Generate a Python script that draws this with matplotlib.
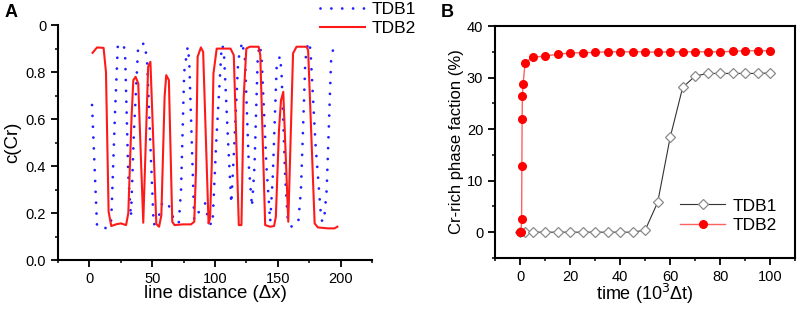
import matplotlib
matplotlib.use("Agg")
import matplotlib.pyplot as plt
from matplotlib.ticker import MultipleLocator, FixedLocator
import numpy as np

plt.rcParams['font.family'] = ['Liberation Sans', 'DejaVu Sans']

# panel A: concentration profile along a line
tdb1_x = [2.1, 6.1, 14.7, 17.4, 20.5, 22.6, 27.1, 28.4, 31.0, 33.1, 35.5, 38.9,
          44.1, 46.0, 48.5, 51.2, 55.0, 58.0, 62.5, 65.5, 68.0, 71.2, 73.0, 75.5,
          78.3, 79.5, 83.5, 86.5, 92.2, 95.0, 98.0, 101.0, 105.4, 107.0, 110.5,
          113.0, 115.5, 118.5, 121.7, 124.0, 127.0, 129.5, 131.5, 134.0, 135.3,
          137.0, 141.0, 144.0, 146.0, 149.2, 151.8, 153.0, 156.0, 157.9, 160.5,
          166.3, 168.5, 172.0, 174.2, 176.0, 180.0, 184.7, 186.8, 189.0, 192.5,
          195.2]
tdb1_c = [0.66, 0.142, 0.135, 0.17, 0.64, 0.908, 0.922, 0.88, 0.36, 0.182, 0.55, 0.915,
          0.922, 0.84, 0.5, 0.149, 0.18, 0.244, 0.244, 0.2, 0.16, 0.159, 0.3, 0.8,
          0.908, 0.85, 0.17, 0.2, 0.241, 0.16, 0.149, 0.5, 0.915, 0.9, 0.5,
          0.241, 0.5, 0.85, 0.929, 0.85, 0.4, 0.227, 0.4, 0.85, 0.915,
          0.88, 0.4, 0.163, 0.35, 0.83, 0.868, 0.8, 0.35, 0.177, 0.142,
          0.156, 0.3, 0.85, 0.929, 0.9, 0.5, 0.17, 0.163, 0.3, 0.85,
          0.929]

tdb2_x = [2.5, 6.1, 11.3, 13.2, 15.3, 17.4, 21.8, 25.2, 29.2, 31.0, 33.6, 35.0,
          36.8, 38.9, 42.9, 46.8, 48.6, 53.3, 55.5, 57.3, 59.9, 61.2, 63.3, 66.0,
          67.8, 74.4, 80.9, 83.5, 84.9, 86.2, 88.8, 90.6, 94.9, 96.1, 97.5, 98.8,
          101.4, 112.4, 115.0, 119.0, 121.1, 122.9, 125.0, 127.7, 134.8, 136.1,
          140.0, 144.0, 147.1, 148.5, 151.0, 152.6, 154.4, 158.4, 162.2, 165.0,
          172.9, 174.2, 179.4, 182.0, 189.9, 195.2, 197.5]
tdb2_c = [0.882, 0.905, 0.903, 0.80, 0.206, 0.145, 0.153, 0.156, 0.149, 0.20, 0.61, 0.766,
          0.78, 0.752, 0.159, 0.823, 0.844, 0.153, 0.142, 0.191, 0.695, 0.787, 0.766, 0.163,
          0.149, 0.152, 0.152, 0.163, 0.383, 0.865, 0.905, 0.886, 0.156, 0.177, 0.41, 0.794,
          0.90, 0.90, 0.872, 0.149, 0.149, 0.695, 0.90, 0.908, 0.908, 0.872,
          0.149, 0.142, 0.145, 0.184, 0.553, 0.68, 0.716, 0.163, 0.88, 0.908,
          0.908, 0.894, 0.156, 0.139, 0.135, 0.135, 0.142]

a_yticks = [0.0, 0.2, 0.4, 0.6, 0.8, 1.0]
a_ylabels = ['0.0', '0.2', '0.4', '0.6', '0.8', '0']

# panel B: Cr-rich phase fraction vs time
t1 = [0, 2, 5, 10, 15, 20, 25, 30, 35, 40, 45, 50, 55, 60, 65, 70, 75, 80, 85, 90, 95, 100]
f1 = [0, 0, 0, 0, 0, 0, 0, 0, 0, 0, 0, 0.4, 5.8, 18.4, 28.1, 30.3, 30.8, 30.8, 30.8, 30.8, 30.8, 30.9]

t2 = [0, 0.4, 0.6, 0.7, 0.8, 0.9, 1.2, 2, 5, 10, 15, 20, 25, 30, 35, 40, 45, 50, 55, 60,
      65, 70, 75, 80, 85, 90, 95, 100]
f2 = [0, 0, 2.6, 12.9, 22.0, 26.5, 28.8, 32.9, 33.9, 34.2, 34.5, 34.8, 34.8, 34.9, 35.0, 35.0,
      35.0, 35.0, 34.9, 35.0, 35.0, 35.0, 35.0, 35.0, 35.1, 35.2, 35.2, 35.2]

fig = plt.figure(figsize=(8.09, 3.10), dpi=100)

# ---- panel A
ax1 = fig.add_axes([0.0717, 0.161, 0.388, 0.758])
l1, = ax1.plot(tdb1_x, tdb1_c, color='#1f1fff', lw=2.0, linestyle=(0, (0.01, 3.9)),
               dash_capstyle='round')
l2, = ax1.plot(tdb2_x, tdb2_c, color='#ff1a1a', lw=1.5)
ax1.set_xlim(-25, 225)
ax1.set_ylim(0, 1.0)
ax1.xaxis.set_major_locator(FixedLocator([0, 50, 100, 150, 200]))
ax1.xaxis.set_minor_locator(MultipleLocator(25))
ax1.yaxis.set_major_locator(FixedLocator(a_yticks))
ax1.yaxis.set_minor_locator(MultipleLocator(0.1))
ax1.set_yticklabels(a_ylabels)
ax1.spines['top'].set_visible(False)
ax1.spines['right'].set_visible(False)
ax1.set_xlabel('line distance (\u0394x)', fontsize=13.4, labelpad=-1)
ax1.set_ylabel('c(Cr)', fontsize=13.4, labelpad=3)
fig.legend([l1, l2], ['TDB1', 'TDB2'], loc='upper left', bbox_to_anchor=(0.376, 1.045),
           frameon=False, fontsize=12.5, handlelength=2.6, handletextpad=0.4,
           labelspacing=0.25)

# ---- panel B
ax2 = fig.add_axes([0.612, 0.168, 0.371, 0.748])
ax2.plot(t1, f1, color='#333333', lw=0.8, marker='D', markersize=5,
         markerfacecolor='white', markeredgecolor='#8a8a8a', markeredgewidth=0.9,
         label='TDB1')
ax2.plot(t2, f2, color='#ff6060', lw=1.0, marker='o', markersize=5.5,
         markerfacecolor='#ff0000', markeredgecolor='#ff0000', label='TDB2')
ax2.set_xlim(-10, 110)
ax2.set_ylim(-5, 40)
ax2.xaxis.set_major_locator(MultipleLocator(20))
ax2.xaxis.set_minor_locator(MultipleLocator(10))
ax2.yaxis.set_major_locator(FixedLocator([0, 10, 20, 30, 40]))
ax2.yaxis.set_minor_locator(MultipleLocator(5))
ax2.set_xlabel('time (10$^3$\u0394t)', fontsize=13, labelpad=-1)
ax2.set_ylabel('Cr-rich phase faction (%)', fontsize=12, labelpad=2)
ax2.legend(loc='lower right', bbox_to_anchor=(0.99, 0.04), frameon=False, fontsize=12.5,
           handlelength=2.6, handletextpad=0.4, labelspacing=0.25)

for ax in (ax1, ax2):
    ax.tick_params(which='major', direction='out', length=5, width=1.3, labelsize=10.5)
    ax.tick_params(which='minor', direction='out', length=2.5, width=1.1)
    for s in ax.spines.values():
        s.set_linewidth(1.5)

fig.text(0.006, 0.945, 'A', fontsize=13, fontweight='bold')
fig.text(0.545, 0.945, 'B', fontsize=13, fontweight='bold')

fig.savefig('out.png', dpi=100)
